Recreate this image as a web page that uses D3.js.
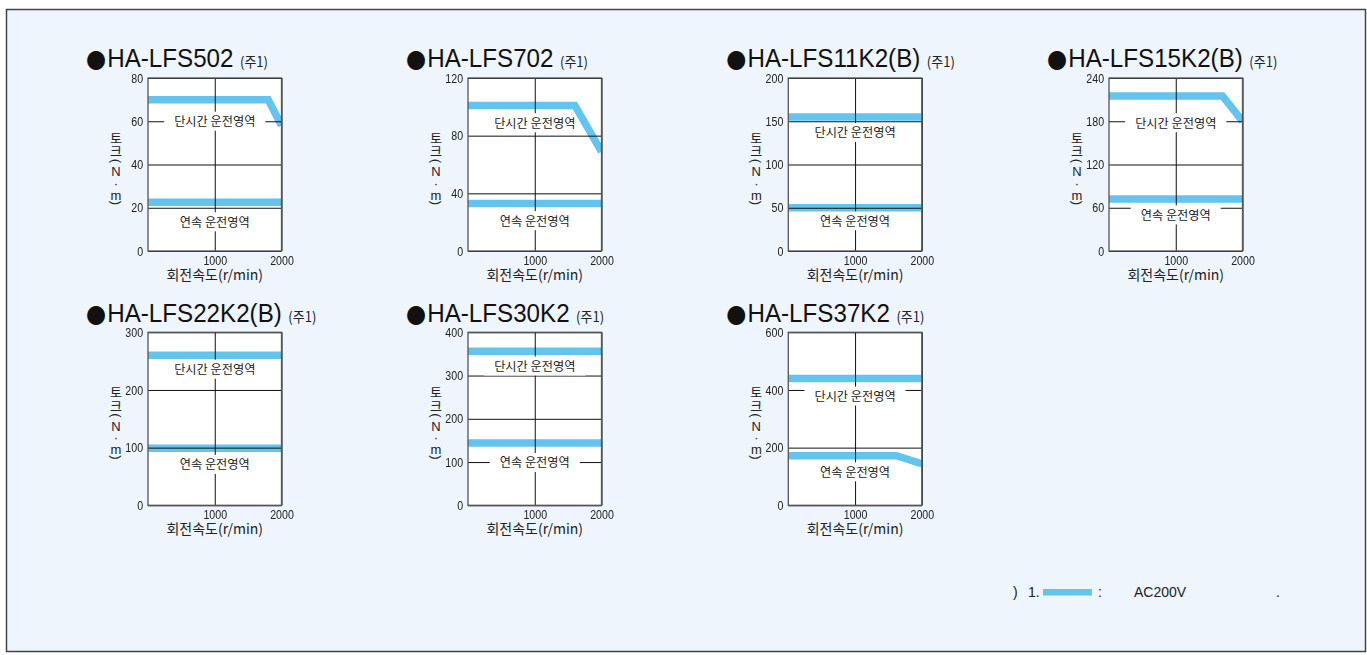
<!DOCTYPE html>
<html><head><meta charset="utf-8">
<script src="https://cdn.jsdelivr.net/npm/d3@7"></script>
<style>body{margin:0;background:#fff}</style>
</head><body>
<svg id="c" width="1367" height="655"></svg>
<script>
// ---------- data ----------
const models = ["HA-LFS502","HA-LFS702","HA-LFS11K2(B)","HA-LFS15K2(B)","HA-LFS22K2(B)","HA-LFS30K2","HA-LFS37K2"];
const noteMark = "(주1)";
const yMax = [80,120,200,240,300,400,600];
const yTicks = [[0,20,40,60,80],[0,40,80,120],[0,50,100,150,200],[0,60,120,180,240],[0,100,200,300],[0,100,200,300,400],[0,200,400,600]];
const xTicks = [1000,2000];
const shortSpeed  = [[0,1800,2000],[0,1600,2000],[0,2000],[0,1700,2000],[0,2000],[0,2000],[0,2000]];
const shortTorque = [[70,70,58],[101,101,69],[155,155],[215,215,180],[260,260],[356,356],[440,440]];
const contSpeed   = [[0,2000],[0,2000],[0,2000],[0,2000],[0,2000],[0,2000],[0,1620,2000]];
const contTorque  = [[22.5,22.5],[33,33],[50,50],[72,72],[99,99],[144,144],[172,172,144]];
const shortLabel = "단시간 운전영역";
const contLabel = "연속 운전영역";
const shortLabelAt = [60,89,137,178,236,322,379];
const contLabelAt = [13.5,21,35,50,71,99,116];
const xLabel = "회전속도(r/min)";
const yLabelChars = ["토","크","(","N","·","m",")"];
const footTexts = [")","1.",":","AC200V","."];

// ---------- style ----------
const BLUE = "#62c4ef";
const BG = "#eef5fc";
const KR = "'Noto Sans CJK KR','Noto Sans',sans-serif";
const LAT = "'Liberation Sans',Arial,sans-serif";
const svg = d3.select("#c");
const defs = svg.append("defs");

// outer panel
svg.append("rect").attr("x",6.5).attr("y",9.5).attr("width",1359).attr("height",642)
  .attr("fill",BG).attr("stroke","#444").attr("stroke-width",1.5);

const W = 133.5, H = 173;
const lefts = [148,468,788.3,1109];
const tops = [78,332.3];
const NARROW = 0.82;

models.forEach((m,i)=>{
  const L = lefts[i%4], T = tops[Math.floor(i/4)];
  const x = d3.scaleLinear().domain([0,2000]).range([L,L+W]);
  const y = d3.scaleLinear().domain([0,yMax[i]]).range([T+H,T]);
  const g = svg.append("g");

  // title
  const t = g.append("text").attr("transform",`translate(${L-62},${T-10.7}) scale(0.93,1)`)
    .attr("font-family",LAT).attr("font-size",26).attr("fill","#111");
  t.append("tspan").attr("font-family","'DejaVu Sans',sans-serif").attr("font-size",25).text("●");
  t.append("tspan").attr("dx",1).text(m);
  t.append("tspan").attr("dx",7).attr("font-family",KR).attr("font-size",14).attr("fill","#222").text(noteMark);

  // plot background
  g.append("rect").attr("x",L).attr("y",T).attr("width",W).attr("height",H).attr("fill","#fff");

  // clip for bands
  const cid = "clip"+i;
  defs.append("clipPath").attr("id",cid).append("rect").attr("x",L).attr("y",T).attr("width",W).attr("height",H);
  // mask for grid (gaps around the region labels)
  const mid = "mask"+i;
  const mask = defs.append("mask").attr("id",mid).attr("maskUnits","userSpaceOnUse")
    .attr("maskContentUnits","userSpaceOnUse")
    .attr("x",0).attr("y",0).attr("width",1367).attr("height",655);
  mask.append("rect").attr("x",0).attr("y",0).attr("width",1367).attr("height",655).attr("fill","#fff");

  const line = d3.line().x(d=>x(d[0])).y(d=>y(d[1]));
  const bands = [d3.zip(shortSpeed[i],shortTorque[i]), d3.zip(contSpeed[i],contTorque[i])];
  g.append("g").attr("clip-path",`url(#${cid})`).selectAll("path").data(bands).join("path")
    .attr("d",line).attr("fill","none").attr("stroke",BLUE).attr("stroke-width",7.5)
    .attr("stroke-linejoin","miter").attr("stroke-linecap","butt");

  // axes with grid (masked as a whole, in untransformed user space)
  const grid = g.append("g").attr("mask",`url(#${mid})`);
  const fmt = d3.format("d");
  const ya = grid.append("g").attr("transform",`translate(${L},0)`)
    .call(d3.axisLeft(y).tickValues(yTicks[i]).tickFormat(fmt).tickSize(-W).tickPadding(6));
  const xa = grid.append("g").attr("transform",`translate(0,${T+H})`)
    .call(d3.axisBottom(x).tickValues(xTicks).tickFormat(fmt).tickSize(-H).tickPadding(4.5));
  [ya,xa].forEach(a=>{
    a.select(".domain").remove();
    a.selectAll("line").attr("stroke","#111").attr("stroke-width",1);
    a.selectAll("text").attr("font-family",LAT).attr("font-size",13).attr("fill","#222")
      .attr("transform",`scale(${NARROW},1)`);
  });

  // region labels (grid interrupted around them)
  [[shortLabel,shortLabelAt[i]],[contLabel,contLabelAt[i]]].forEach(([s,v])=>{
    const cx = L+W/2, cy = y(v);
    const tx = g.append("text").attr("x",cx).attr("y",cy).attr("text-anchor","middle")
      .attr("dominant-baseline","central").attr("font-family",KR).attr("font-size",12.2).attr("fill","#222").text(s);
    const bw = tx.node().getComputedTextLength()+20;
    mask.append("rect").attr("x",cx-bw/2).attr("y",cy-9.5).attr("width",bw).attr("height",19).attr("fill","#000");
  });

  // frame
  g.append("rect").attr("x",L).attr("y",T).attr("width",W).attr("height",H)
    .attr("fill","none").attr("stroke","#555").attr("stroke-width",1.3);

  // x label
  g.append("text").attr("x",L+W/2).attr("y",T+H+29).attr("text-anchor","middle")
    .attr("font-family",KR).attr("font-size",14).attr("fill","#222").text(xLabel);

  // y label (vertical, stacked)
  const offs = [59,72.7,83,93.7,105,117,125];
  yLabelChars.forEach((c,k)=>{
    const cx = L-32, cy = T+offs[k];
    const isP = c==="("||c===")";
    g.append("text").attr("x",0).attr("y",0)
      .attr("transform",`translate(${cx},${cy})`+(isP?" rotate(90)":""))
      .attr("text-anchor","middle").attr("dominant-baseline","central")
      .attr("font-family",/[토크]/.test(c)?KR:LAT).attr("font-size",13).attr("fill","#222").text(c);
  });
});

// footnote
const fx = [1013,1028,1098,1134,1276];
footTexts.forEach((s,k)=>{
  svg.append("text").attr("x",fx[k]).attr("y",597).attr("font-family",LAT).attr("font-size",14)
    .attr("fill","#222").text(s);
});
svg.append("rect").attr("x",1043).attr("y",589).attr("width",49).attr("height",6.5).attr("fill",BLUE);
</script>
</body></html>
